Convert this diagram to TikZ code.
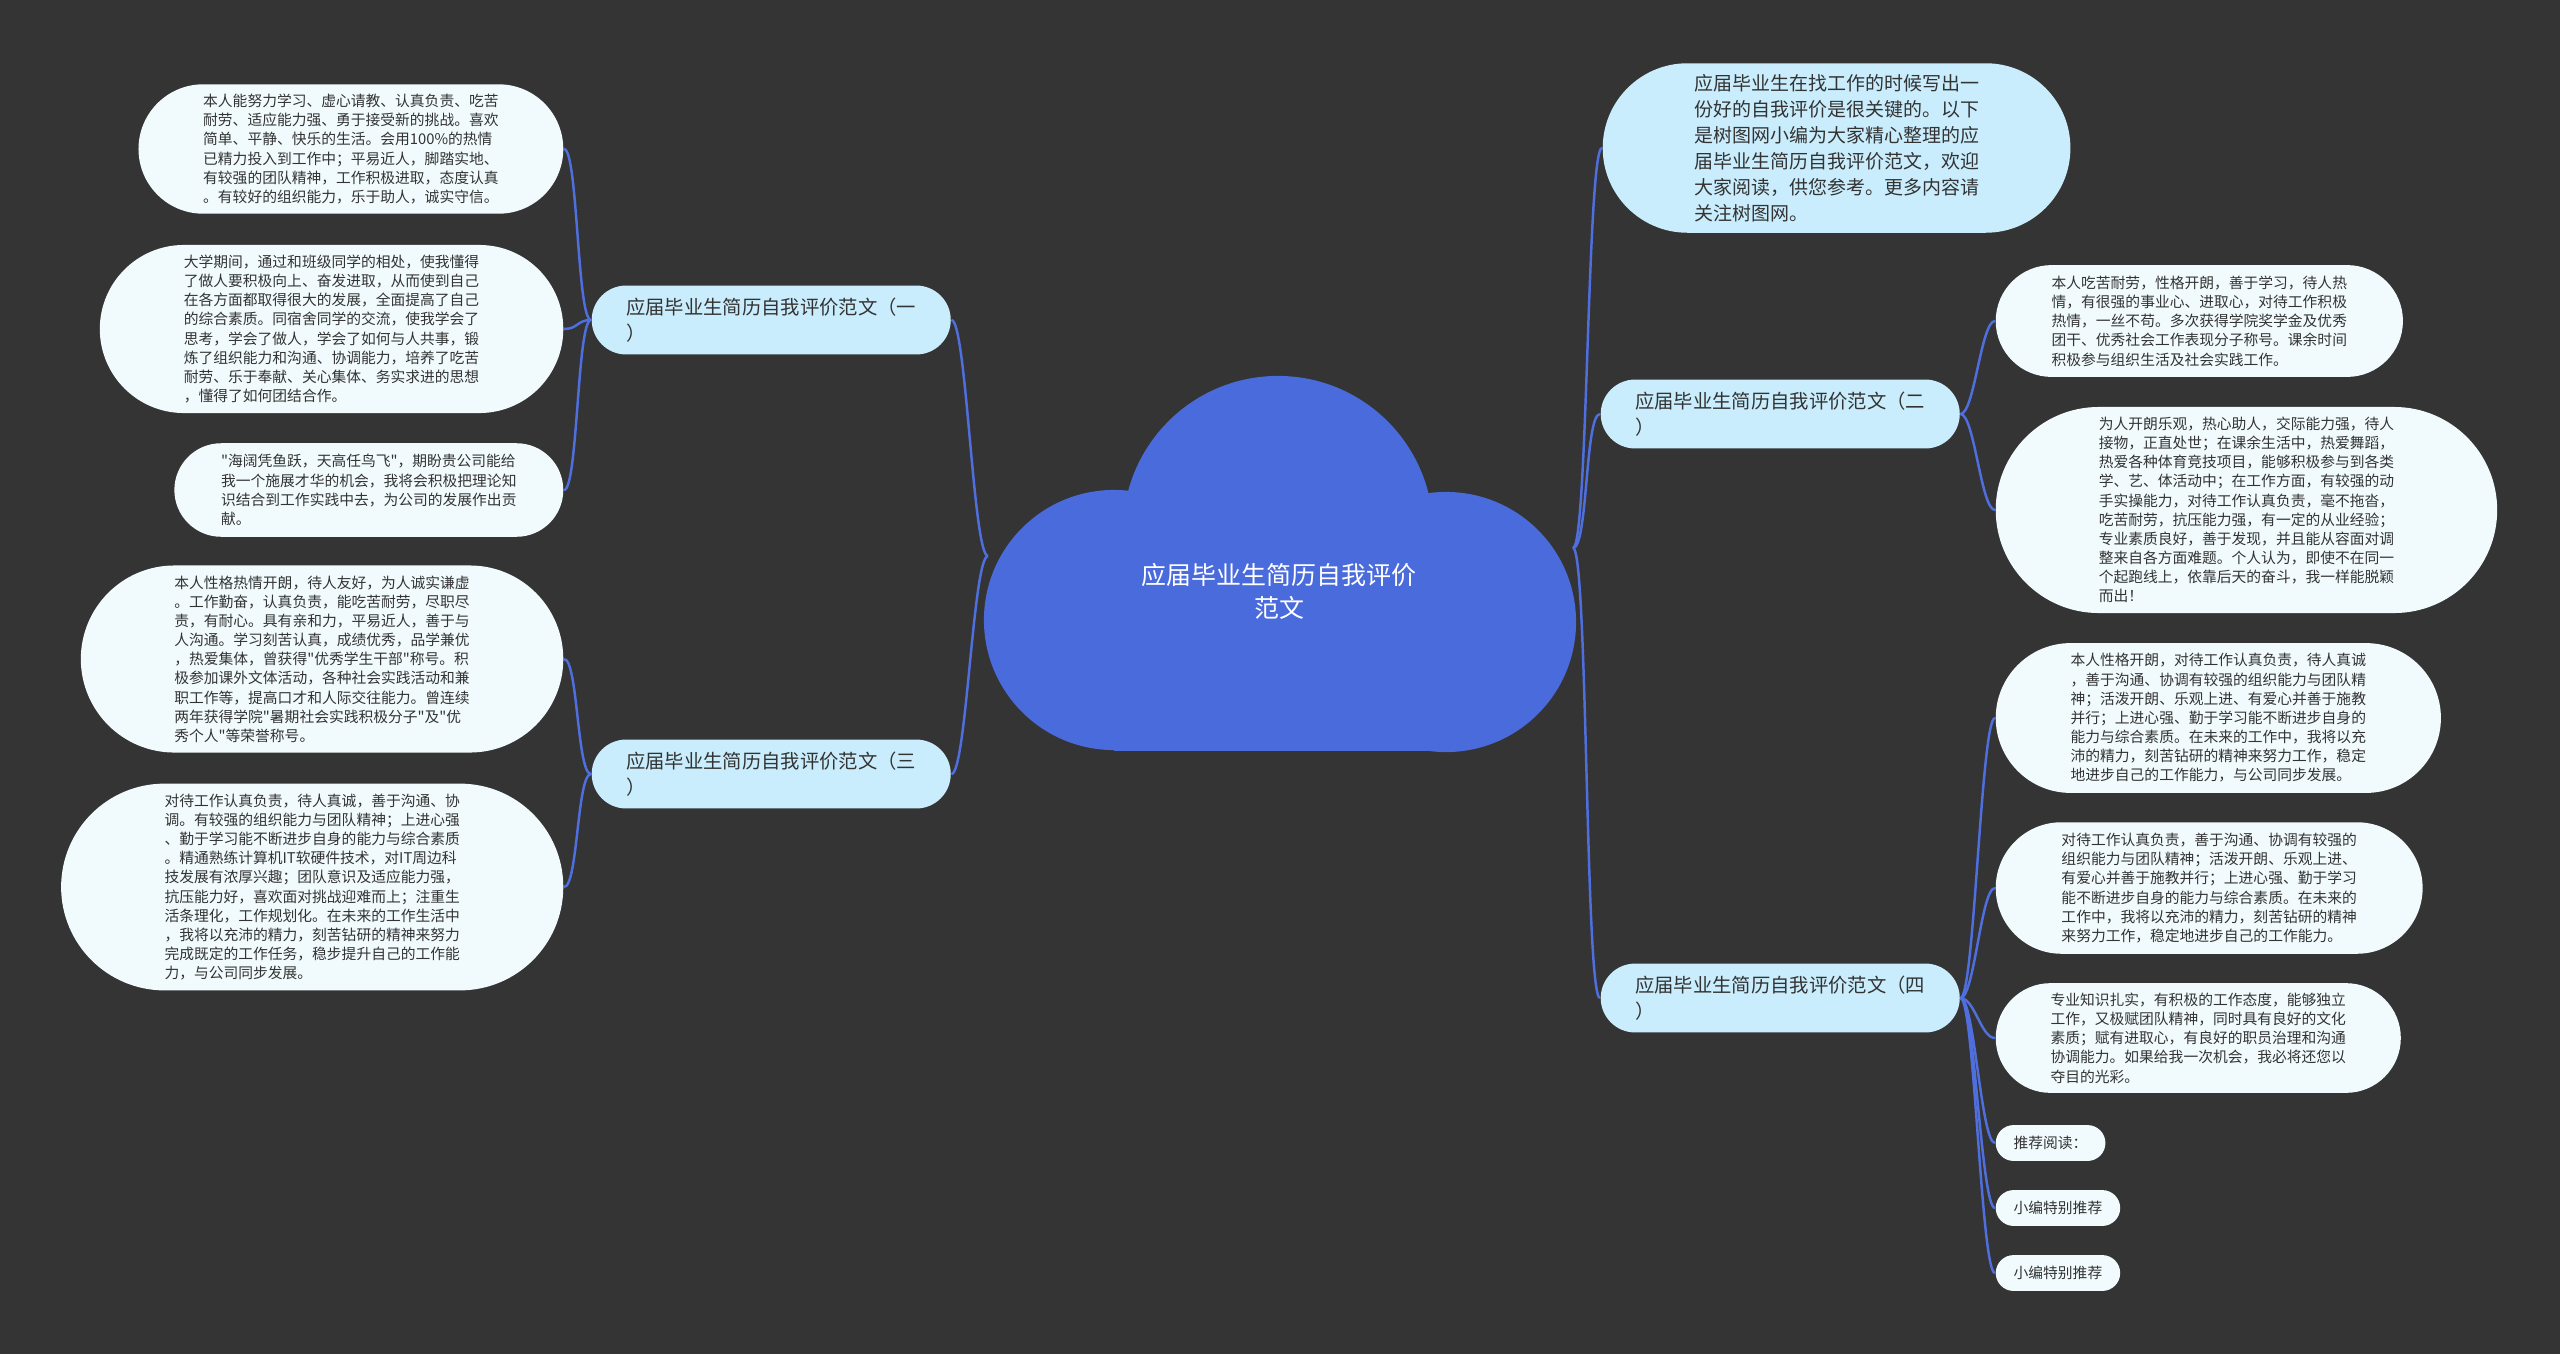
\documentclass[tikz,border=0pt]{standalone}
\usepackage{fontspec}
\setmainfont{Noto Sans CJK SC}[Ligatures=TeXOff]
\definecolor{bgc}{HTML}{343434}
\definecolor{cloudc}{HTML}{4A6BDB}
\definecolor{leafc}{HTML}{F1FBFE}
\definecolor{branchc}{HTML}{C9EDFC}
\definecolor{linkc}{HTML}{4F6FDE}
\definecolor{txt}{HTML}{333333}
\begin{document}
\begin{tikzpicture}[x=0.01cm, y=-0.01cm,
    leaf/.style={rectangle, rounded corners=#1, inner xsep=#1, inner ysep=0pt,
        minimum height=2*#1, fill=leafc, text=txt, align=left,
        font=\fontsize{4.2pt}{5.45pt}\selectfont},
    branch/.style={rectangle, rounded corners=9.8pt, inner xsep=9.8pt, inner ysep=0pt,
        minimum height=19.6pt, fill=branchc, text=txt, align=left,
        font=\fontsize{5.5pt}{7.4pt}\selectfont},
    link/.style={linkc, line width=0.7pt}]
    \fill[bgc] (0,0) rectangle (2560,1354);
    % cloud
    \fill[cloudc] (1278,531) circle (1.55cm);
    \fill[cloudc] (1114,620) circle (1.3cm);
    \fill[cloudc] (1446,622) circle (1.3cm);
    \fill[cloudc] (1114,620) rectangle (1446,751);
    \node[text=white, align=center, font=\fontsize{7.1pt}{9.4pt}\selectfont] (root) at (1279,591) {应届毕业生简历自我评价\\范文};
    \coordinate (rootL) at (988,556);
    \coordinate (rootR) at (1573,548);

    % left side
    \node[branch, anchor=west] (b1) at (591,320) {应届毕业生简历自我评价范文（一\\）};
    \node[branch, anchor=west] (b3) at (591,774) {应届毕业生简历自我评价范文（三\\）};
    \node[leaf=18.4pt, anchor=east] (l1) at (564,149) {本人能努力学习、虚心请教、认真负责、吃苦\\耐劳、适应能力强、勇于接受新的挑战。喜欢\\简单、平静、快乐的生活。会用100\%的热情\\已精力投入到工作中；平易近人，脚踏实地、\\有较强的团队精神，工作积极进取，态度认真\\。有较好的组织能力，乐于助人，诚实守信。};
    \node[leaf=23.9pt, anchor=east] (l2) at (564,329) {大学期间，通过和班级同学的相处，使我懂得\\了做人要积极向上、奋发进取，从而使到自己\\在各方面都取得很大的发展，全面提高了自己\\的综合素质。同宿舍同学的交流，使我学会了\\思考，学会了做人，学会了如何与人共事，锻\\炼了组织能力和沟通、协调能力，培养了吃苦\\耐劳、乐于奉献、关心集体、务实求进的思想\\，懂得了如何团结合作。};
    \node[leaf=13.3pt, anchor=east] (l3) at (564,490) {"海阔凭鱼跃，天高任鸟飞"，期盼贵公司能给\\我一个施展才华的机会，我将会积极把理论知\\识结合到工作实践中去，为公司的发展作出贡\\献。};
    \node[leaf=26.6pt, anchor=east] (l4) at (564,659) {本人性格热情开朗，待人友好，为人诚实谦虚\\。工作勤奋，认真负责，能吃苦耐劳，尽职尽\\责，有耐心。具有亲和力，平易近人，善于与\\人沟通。学习刻苦认真，成绩优秀，品学兼优\\，热爱集体，曾获得"优秀学生干部"称号。积\\极参加课外文体活动，各种社会实践活动和兼\\职工作等，提高口才和人际交往能力。曾连续\\两年获得学院"暑期社会实践积极分子"及"优\\秀个人"等荣誉称号。};
    \node[leaf=29.4pt, anchor=east] (l5) at (564,887) {对待工作认真负责，待人真诚，善于沟通、协\\调。有较强的组织能力与团队精神；上进心强\\、勤于学习能不断进步自身的能力与综合素质\\。精通熟练计算机IT软硬件技术，对IT周边科\\技发展有浓厚兴趣；团队意识及适应能力强，\\抗压能力好，喜欢面对挑战迎难而上；注重生\\活条理化，工作规划化。在未来的工作生活中\\，我将以充沛的精力，刻苦钻研的精神来努力\\完成既定的工作任务，稳步提升自己的工作能\\力，与公司同步发展。};

    % right side
    \node[branch, anchor=west, font=\fontsize{5.4pt}{7.4pt}\selectfont, rounded corners=24.1pt, inner xsep=26pt, minimum height=48.2pt] (intro) at (1602,148) {应届毕业生在找工作的时候写出一\\份好的自我评价是很关键的。以下\\是树图网小编为大家精心整理的应\\届毕业生简历自我评价范文，欢迎\\大家阅读，供您参考。更多内容请\\关注树图网。};
    \node[branch, anchor=west] (b2) at (1600,414) {应届毕业生简历自我评价范文（二\\）};
    \node[branch, anchor=west] (b4) at (1600,998) {应届毕业生简历自我评价范文（四\\）};
    \node[leaf=15.9pt, anchor=west] (r1) at (1995,321) {本人吃苦耐劳，性格开朗，善于学习，待人热\\情，有很强的事业心、进取心，对待工作积极\\热情，一丝不苟。多次获得学院奖学金及优秀\\团干、优秀社会工作表现分子称号。课余时间\\积极参与组织生活及社会实践工作。};
    \node[leaf=29.3pt, anchor=west] (r2) at (1995,510) {为人开朗乐观，热心助人，交际能力强，待人\\接物，正直处世；在课余生活中，热爱舞蹈，\\热爱各种体育竞技项目，能够积极参与到各类\\学、艺、体活动中；在工作方面，有较强的动\\手实操能力，对待工作认真负责，毫不拖沓，\\吃苦耐劳，抗压能力强，有一定的从业经验；\\专业素质良好，善于发现，并且能从容面对调\\整来自各方面难题。个人认为，即使不在同一\\个起跑线上，依靠后天的奋斗，我一样能脱颖\\而出！};
    \node[leaf=21.3pt, anchor=west] (r3) at (1995,718) {本人性格开朗，对待工作认真负责，待人真诚\\，善于沟通、协调有较强的组织能力与团队精\\神；活泼开朗、乐观上进、有爱心并善于施教\\并行；上进心强、勤于学习能不断进步自身的\\能力与综合素质。在未来的工作中，我将以充\\沛的精力，刻苦钻研的精神来努力工作，稳定\\地进步自己的工作能力，与公司同步发展。};
    \node[leaf=18.7pt, anchor=west] (r4) at (1995,888) {对待工作认真负责，善于沟通、协调有较强的\\组织能力与团队精神；活泼开朗、乐观上进、\\有爱心并善于施教并行；上进心强、勤于学习\\能不断进步自身的能力与综合素质。在未来的\\工作中，我将以充沛的精力，刻苦钻研的精神\\来努力工作，稳定地进步自己的工作能力。};
    \node[leaf=15.6pt, anchor=west] (r5) at (1995,1038) {专业知识扎实，有积极的工作态度，能够独立\\工作，又极赋团队精神，同时具有良好的文化\\素质；赋有进取心，有良好的职员治理和沟通\\协调能力。如果给我一次机会，我必将还您以\\夺目的光彩。};
    \node[leaf=5.1pt, anchor=west] (r6) at (1995,1143) {推荐阅读：};
    \node[leaf=5.1pt, anchor=west] (r7) at (1995,1208) {小编特别推荐};
    \node[leaf=5.1pt, anchor=west] (r8) at (1995,1273) {小编特别推荐};

    % links
    \foreach \n in {b1,b3}
        \draw[link] (rootL) .. controls +(-15,0) and +(15,0) .. (\n.east);
    \foreach \n in {intro,b2,b4}
        \draw[link] (rootR) .. controls +(15,0) and +(-15,0) .. (\n.west);
    \foreach \n in {l1,l2,l3}
        \draw[link] (b1.west) .. controls +(-14,0) and +(14,0) .. (\n.east);
    \foreach \n in {l4,l5}
        \draw[link] (b3.west) .. controls +(-14,0) and +(14,0) .. (\n.east);
    \foreach \n in {r1,r2}
        \draw[link] (b2.east) .. controls +(14,0) and +(-14,0) .. (\n.west);
    \foreach \n in {r3,r4,r5,r6,r7,r8}
        \draw[link] (b4.east) .. controls +(14,0) and +(-14,0) .. (\n.west);
\end{tikzpicture}
\end{document}
